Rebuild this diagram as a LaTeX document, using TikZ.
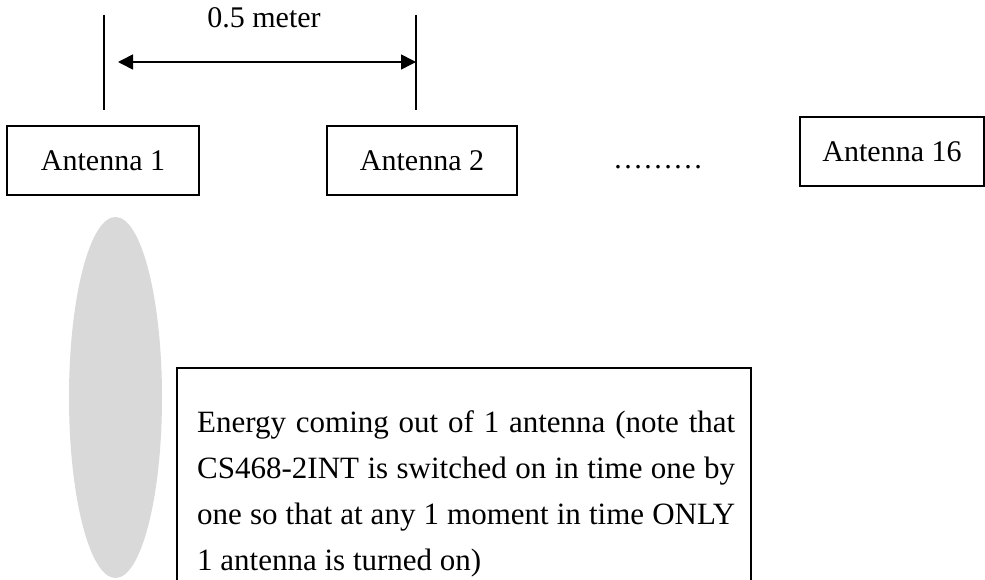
\documentclass[tikz,border=0pt]{standalone}
\usepackage{fontspec}
\setmainfont{Liberation Serif}
\usetikzlibrary{arrows.meta}
\definecolor{beamgray}{HTML}{D9D9D9}
\tikzset{
  antbox/.style={draw=black, line width=1.6pt, minimum height=69pt, inner sep=0pt, font=\fontsize{30}{36}\selectfont},
  guide/.style={line width=1.4pt},
  dim/.style={line width=1.6pt, {Triangle[length=15pt,width=15pt]}-{Triangle[length=15pt,width=15pt]}},
  txt/.style={inner sep=0pt, anchor=base west, font=\fontsize{31}{46}\selectfont},
}
\begin{document}
\begin{tikzpicture}[x=1pt,y=-1pt]
\useasboundingbox (0,0) rectangle (985,580);
% beam ellipse
\fill[beamgray] (115.5,397.5) ellipse [x radius=46.5, y radius=180.5];
% guides
\coordinate (v1t) at (104,15);
\coordinate (v1b) at (104,110);
\coordinate (v2t) at (416,15);
\coordinate (v2b) at (416,110);
\draw[guide] (v1t) -- (v1b);
\draw[guide] (v2t) -- (v2b);
\coordinate (d1) at (118,62);
\coordinate (d2) at (416,62);
\draw[dim] (d1) -- (d2);
\node[inner sep=0pt, anchor=base, font=\fontsize{30}{36}\selectfont] (dist) at (264,28) {0.5 meter};
% antennas
\node[antbox, minimum width=192pt] (a1) at (103,160.5) {Antenna 1};
\node[antbox, minimum width=190pt] (a2) at (422,160.5) {Antenna 2};
\node[inner sep=0pt, anchor=base, font=\fontsize{30}{36}\selectfont] (dots) at (658,169) {………};
\node[antbox, minimum width=184pt] (a16) at (892,151.5) {Antenna 16};
% text box (open at bottom)
\coordinate (b1) at (177,581);
\coordinate (b2) at (177,368);
\coordinate (b3) at (751,368);
\coordinate (b4) at (751,581);
\draw[line width=1.6pt] (b1) -- (b2) -- (b3) -- (b4);
\node[txt] (t1) at (197,432) {\makebox[538pt][s]{Energy coming out of 1 antenna (note that}};
\node[txt] (t2) at (197,478) {\makebox[538pt][s]{CS468-2INT is switched on in time one by}};
\node[txt] (t3) at (197,524) {\makebox[538pt][s]{one so that at any 1 moment in time ONLY}};
\node[txt] (t4) at (197,570) {1 antenna is turned on)};
\end{tikzpicture}
\end{document}
